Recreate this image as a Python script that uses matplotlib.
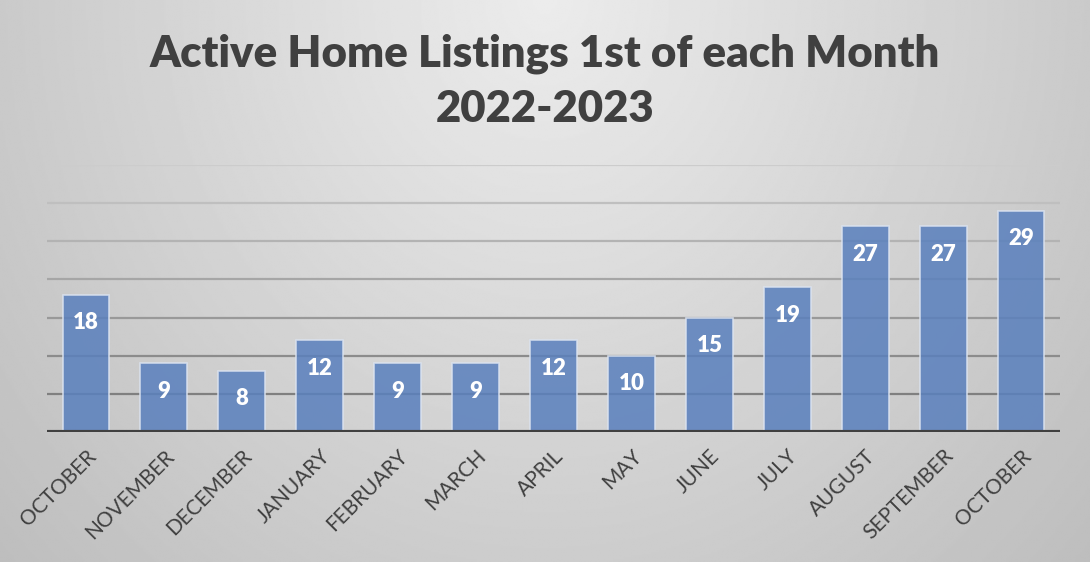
import matplotlib.pyplot as plt
import numpy as np

months = ['OCTOBER', 'NOVEMBER', 'DECEMBER', 'JANUARY', 'FEBRUARY', 'MARCH', 'APRIL',
          'MAY', 'JUNE', 'JULY', 'AUGUST', 'SEPTEMBER', 'OCTOBER']
listings = [18, 9, 8, 12, 9, 9, 12, 10, 15, 19, 27, 27, 29]
grid_levels = [5, 10, 15, 20, 25, 30, 35]

plt.rcParams['font.family'] = ['Lato', 'DejaVu Sans']

fig = plt.figure(figsize=(10.9, 5.62), dpi=100)

# radial grey background like the office chart style
bg = fig.add_axes([0, 0, 1, 1], zorder=0)
yy, xx = np.mgrid[0:1:300j, 0:1:600j]
r = np.sqrt(((xx - 0.5) / 0.6) ** 2 + (yy / 1.3) ** 2)
shade = 0.925 - 0.16 * np.clip(r, 0, 1.2)
bg.imshow(shade, cmap='gray', vmin=0, vmax=1, aspect='auto',
          extent=[0, 1, 1, 0], interpolation='bilinear')
bg.axis('off')

ax = fig.add_axes([0.0431, 0.2313, 0.9294, 0.4751], zorder=1)
ax.patch.set_alpha(0)

# gridlines fade out towards the top
for i, g in enumerate(grid_levels):
    c = 0.50 + 0.30 * i / (len(grid_levels) - 1)
    ax.axhline(g, color=(c, c, c), lw=1.6, zorder=1)

x = np.arange(len(months))
bars = ax.bar(x, listings, width=0.6, color='#5a80bd', alpha=0.86,
              linewidth=1.2, zorder=2)
for b in bars:
    b.set_edgecolor((0.86, 0.89, 0.94, 1.0))

for xi, v in zip(x, listings):
    ax.annotate(str(v), (xi, v), xytext=(0, -28), textcoords='offset pixels',
                ha='center', va='center', color='white', fontsize=16,
                fontweight='heavy', zorder=4)

ax.axhline(0, color='#404040', lw=3, zorder=3)

ax.set_xlim(-0.5, len(months) - 0.5)
ax.set_ylim(0, 35)
ax.set_yticks([])
ax.set_xticks(x)
ax.set_xticklabels(months, rotation=45, ha='right', rotation_mode='anchor',
                   fontsize=15, color='#404040')
ax.tick_params(axis='x', length=0, pad=10)
for s in ax.spines.values():
    s.set_visible(False)

fig.text(0.5, 0.905, 'Active Home Listings 1st of each Month', ha='center', va='center',
         fontsize=31.5, fontweight='heavy', color='#404040')
fig.text(0.5, 0.806, '2022-2023', ha='center', va='center',
         fontsize=31.5, fontweight='heavy', color='#404040')

fig.savefig('out.png', dpi=100)
